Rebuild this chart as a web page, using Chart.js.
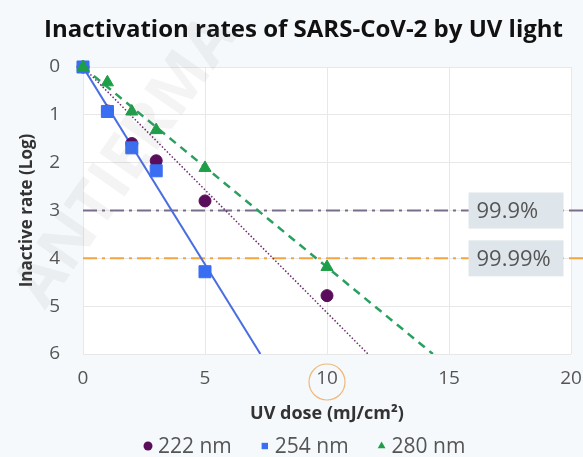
<!DOCTYPE html>
<html>
<head>
<meta charset="utf-8">
<script src="https://cdn.jsdelivr.net/npm/chart.js@4.4.1/dist/chart.umd.min.js"></script>
<style>
  html, body { margin: 0; padding: 0; background: #f6f9fb; }
  #wrap { width: 583px; height: 457px; }
</style>
</head>
<body>
<div id="wrap"><canvas id="uvChart" width="583" height="457"></canvas></div>
<script>
// UV dose (mJ/cm2) and log reduction for each wavelength
const dose222 = [0, 1, 2, 3, 5, 10];
const log222 = [0, 0.92, 1.6, 1.96, 2.8, 4.78];
const dose254 = [0, 1, 2, 3, 5];
const log254 = [0, 0.93, 1.69, 2.17, 4.28];
const dose280 = [0, 1, 2, 3, 5, 10];
const log280 = [0, 0.32, 0.93, 1.32, 2.11, 4.18];

// fitted lines: dose where each line reaches 6 log
const fitEnd222 = 11.68;
const fitEnd254 = 7.27;
const fitEnd280 = 14.34;

const xTicks = [0, 5, 10, 15, 20];
const yTicks = [0, 1, 2, 3, 4, 5, 6];

// reference levels
const levelValues = [3, 4];
const levelLabels = ['99.9%', '99.99%'];
const levelColors = ['#7a6d8c', '#f2a541'];

const seriesNames = ['222 nm', '254 nm', '280 nm'];
const seriesColors = ['#5a0d5a', '#3a6ef2', '#1e9e48'];
const seriesShapes = ['circle', 'rect', 'triangle'];

const toPts = (xs, ys) => xs.map((x, i) => ({ x: x, y: ys[i] }));

const bgPlugin = {
    id: 'bg',
    beforeDraw: (chart) => {
        const ctx = chart.ctx;
        const a = chart.chartArea;
        ctx.save();
        ctx.fillStyle = '#f6f9fb';
        ctx.fillRect(0, 0, chart.width, chart.height);
        ctx.fillStyle = '#ffffff';
        ctx.fillRect(a.left, a.top, a.right - a.left, a.bottom - a.top);
        ctx.restore();
    }
};

const levelPlugin = {
    id: 'levels',
    beforeDatasetsDraw: (chart) => {
        const ctx = chart.ctx;
        const y = chart.scales.y;
        const a = chart.chartArea;
        ctx.save();
        levelValues.forEach((v, i) => {
            const py = y.getPixelForValue(v);
            ctx.beginPath();
            ctx.setLineDash([14, 5, 3, 5]);
            ctx.lineWidth = 2;
            ctx.strokeStyle = levelColors[i];
            ctx.moveTo(a.left, py);
            ctx.lineTo(chart.width, py);
            ctx.stroke();
        });
        ctx.restore();
    },
    afterDatasetsDraw: (chart) => {
        const ctx = chart.ctx;
        const y = chart.scales.y;
        const x = chart.scales.x;
        ctx.save();
        ctx.font = '22px "Open Sans"';
        ctx.textBaseline = 'middle';
        levelValues.forEach((v, i) => {
            const py = y.getPixelForValue(v);
            const bx = x.getPixelForValue(15.8);
            ctx.fillStyle = '#dfe6eb';
            ctx.fillRect(bx, py - 18, 95, 36);
            ctx.fillStyle = '#555555';
            ctx.fillText(levelLabels[i], bx + 8, py + 1);
        });
        // highlight ring round the 10 tick
        const cx = x.getPixelForValue(10);
        ctx.beginPath();
        ctx.setLineDash([]);
        ctx.lineWidth = 1.2;
        ctx.strokeStyle = '#efb87a';
        ctx.arc(cx, chart.chartArea.bottom + 28, 18, 0, Math.PI * 2);
        ctx.stroke();
        ctx.restore();
    }
};

// simple legend row under the axis title
const legendPlugin = {
    id: 'legendRow',
    afterDraw: (chart) => {
        const ctx = chart.ctx;
        const cy = 446;
        let px = 144;
        ctx.save();
        ctx.font = '21px "Open Sans"';
        ctx.textBaseline = 'middle';
        seriesNames.forEach((name, i) => {
            ctx.fillStyle = seriesColors[i];
            ctx.strokeStyle = seriesColors[i];
            Chart.helpers.drawPoint(ctx, { pointStyle: seriesShapes[i], radius: 4.5, borderWidth: 0 }, px + 4, cy);
            ctx.fillStyle = '#555';
            ctx.fillText(name, px + 14, cy + 1);
            px += 14 + ctx.measureText(name).width + 29;
        });
        ctx.restore();
    }
};

const watermarkPlugin = {
    id: 'watermark',
    afterDraw: (chart) => {
        const ctx = chart.ctx;
        ctx.save();
        ctx.translate(30, 300);
        ctx.rotate(-55 * Math.PI / 180);
        ctx.font = 'bold 64px "Open Sans"';
        ctx.fillStyle = 'rgba(120, 120, 120, 0.08)';
        ctx.textBaseline = 'middle';
        ctx.fillText('ANTIERMA', 0, 0);
        ctx.restore();
    }
};

new Chart(document.getElementById('uvChart'), {
    type: 'scatter',
    data: {
        datasets: [
            { label: seriesNames[0], data: toPts(dose222, log222), backgroundColor: seriesColors[0], borderColor: seriesColors[0],
              pointStyle: 'circle', pointRadius: 6, showLine: false, order: 3, clip: false },
            { label: seriesNames[1], data: toPts(dose254, log254), backgroundColor: seriesColors[1], borderColor: seriesColors[1],
              pointStyle: 'rect', pointRadius: 8.5, showLine: false, order: 2, clip: false },
            { label: seriesNames[2], data: toPts(dose280, log280), backgroundColor: seriesColors[2], borderColor: seriesColors[2],
              pointStyle: 'triangle', pointRadius: 7, showLine: false, order: 1, clip: false },
            { label: 'fit222', data: [{ x: 0, y: 0 }, { x: fitEnd222, y: 6 }], showLine: true, pointRadius: 0,
              borderColor: '#6a2a6a', borderWidth: 1.5, borderDash: [1.5, 2], order: 6 },
            { label: 'fit254', data: [{ x: 0, y: 0 }, { x: fitEnd254, y: 6 }], showLine: true, pointRadius: 0,
              borderColor: '#4a6ee0', borderWidth: 2, order: 5 },
            { label: 'fit280', data: [{ x: 0, y: 0 }, { x: fitEnd280, y: 6 }], showLine: true, pointRadius: 0,
              borderColor: '#2aa060', borderWidth: 2.5, borderDash: [8, 6], order: 4 }
        ]
    },
    options: {
        responsive: false,
        animation: false,
        // left padding keeps the title centred over the plot
        layout: { padding: { left: 36, right: 12, top: 0, bottom: 27 } },
        scales: {
            x: {
                type: 'linear', min: 0, max: 20,
                afterBuildTicks: (s) => { s.ticks = xTicks.map(v => ({ value: v })); },
                afterFit: (s) => { s.height = 76; s.paddingLeft = 0; s.paddingRight = 0; },
                ticks: { color: '#555', font: { family: 'Open Sans', size: 19 }, padding: 13 },
                grid: { color: '#e8e8e8', drawTicks: false },
                border: { display: false },
                title: { display: true, text: 'UV dose (mJ/cm²)', color: '#333',
                         font: { family: 'Open Sans', size: 18, weight: 'bold' }, padding: { top: 0, bottom: 5 } }
            },
            y: {
                type: 'linear', min: 0, max: 6, reverse: true,
                afterBuildTicks: (s) => { s.ticks = yTicks.map(v => ({ value: v })); },
                afterFit: (s) => { s.width = 47; },
                ticks: { color: '#555', font: { family: 'Open Sans', size: 19 }, padding: 23 },
                grid: { color: '#e8e8e8', drawTicks: false },
                border: { display: false },
                title: { display: true, text: 'Inactive rate (Log)', color: '#333',
                         font: { family: 'Open Sans', size: 17, weight: 'bold' }, padding: { top: -19.2, bottom: 0 } }
            }
        },
        plugins: {
            title: {
                display: true, text: 'Inactivation rates of SARS-CoV-2 by UV light', color: '#111',
                font: { family: 'Open Sans', size: 24, weight: 'bold' }, padding: { top: 15.6, bottom: 22.6 }
            },
            legend: { display: false },
            tooltip: { enabled: false }
        }
    },
    plugins: [bgPlugin, levelPlugin, legendPlugin, watermarkPlugin]
});
</script>
</body>
</html>
